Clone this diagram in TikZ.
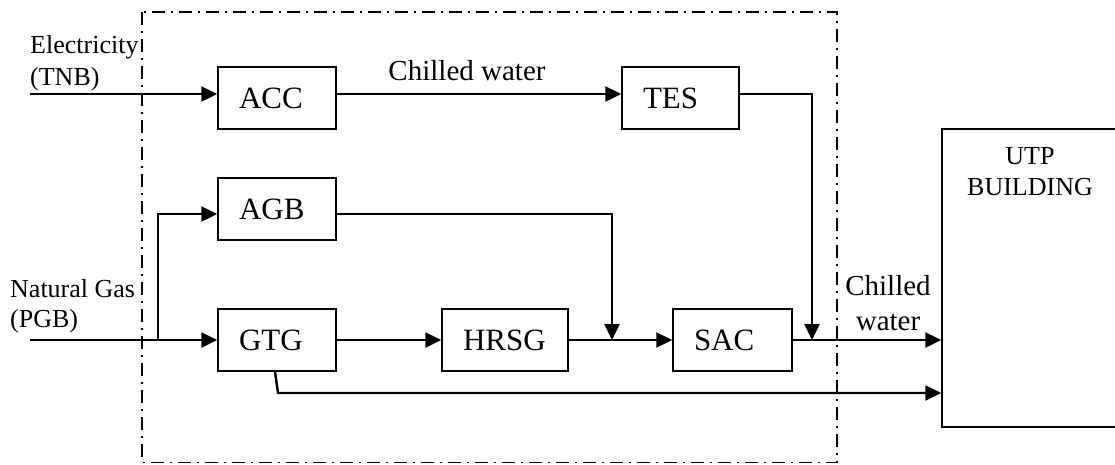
\documentclass[tikz,border=0pt]{standalone}
\usepackage{fontspec}
\setmainfont{Liberation Serif}
\usetikzlibrary{arrows.meta,calc}
\begin{document}
\begin{tikzpicture}[x=1pt,y=-1pt,
  unit/.style={draw,line width=1.5pt,minimum height=62pt,inner xsep=21pt,inner ysep=0pt,
    align=left,font=\fontsize{31}{36}\selectfont},
  flow/.style={line width=2.4pt,-{Triangle[length=16pt,width=15pt]}},
  tag/.style={inner sep=0pt,font=\fontsize{26}{31}\selectfont},
  note/.style={inner sep=0pt,font=\fontsize{29}{35}\selectfont},
  boundary/.style={line width=1.3pt,dash pattern=on 13pt off 6pt on 2pt off 6pt}]
\useasboundingbox (0,0) rectangle (1115,464);

% plant boundary
\draw[boundary] (142,12) rectangle (837,462.5);

% plant units
\node[unit,text width=76pt] (ACC) at (277,98) {ACC};
\node[unit,text width=75pt] (TES) at (680.5,98) {TES};
\node[unit,text width=76pt] (AGB) at (277,209) {AGB};
\node[unit,text width=76pt] (GTG) at (277,340) {GTG};
\node[unit,text width=84pt] (HRSG) at (505,340) {HRSG};
\node[unit,text width=77pt] (SAC) at (732.5,340) {SAC};

% consumer
\node[draw,line width=1.5pt,minimum width=200pt,minimum height=298pt] (UTP) at (1042,278) {};
\node[tag,anchor=base,align=center,font=\fontsize{26}{31}\selectfont] (utptxt) at (1030,195) {UTP\\BUILDING};

% supply labels (base anchor sits on the last line)
\node[tag,anchor=base west,align=left,font=\fontsize{26}{32}\selectfont] (elec) at (30,85) {Electricity\\(TNB)};
\node[tag,anchor=base west,align=left,font=\fontsize{26}{30}\selectfont] (gas) at (10,327) {Natural Gas\\(PGB)};
\node[note,anchor=base] (cwtop) at (467,80) {Chilled water};
\node[note,anchor=base,align=center] (cwout) at (888,330) {Chilled\\water};

% electricity route
\coordinate (ein) at (30,94);
\draw[flow] (ein) -- (ein -| ACC.west);
\draw[flow] (ein -| ACC.east) -- (ein -| TES.west);
\coordinate (jT) at (812,340);
\draw[flow] (ein -| TES.east) -| (jT);

% gas route
\coordinate (gin) at (30,340);
\draw[flow] (gin) -- (GTG.west);
\coordinate (split) at (158,340);
\coordinate (agbin) at (158,214);
\draw[flow] (split) -- (agbin) -- (agbin -| AGB.west);
\coordinate (jA) at (612,340);
\draw[flow] (agbin -| AGB.east) -| (jA);
\draw[flow] (GTG.east) -- (HRSG.west);
\draw[flow] (HRSG.east) -- (SAC.west);
\draw[flow] (SAC.east) -- (SAC.east -| UTP.west);

% power line from the turbine
\coordinate (tap) at ([xshift=-2pt]GTG.south);
\coordinate (low) at (278,393);
\draw[flow] (tap) -- (low) -- (low -| UTP.west);
\end{tikzpicture}
\end{document}
